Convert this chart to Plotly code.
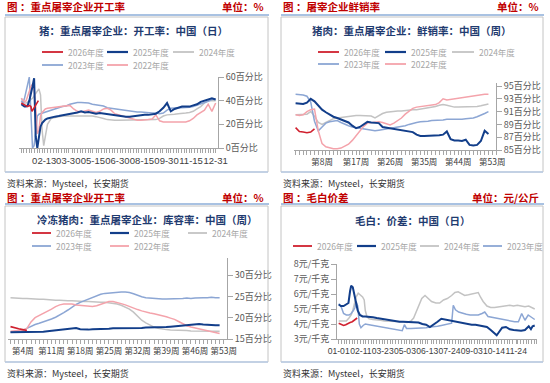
import plotly.graph_objects as go

# ================= DATA =================
YEARS = ["2026年度", "2025年度", "2024年度", "2023年度", "2022年度"]

# Panel 1: 猪：重点屠宰企业：开工率：中国（日）  x = day of year
P1_DAYS = [1, 4, 7, 10, 13, 16, 19, 22, 25, 28, 31, 34, 37, 40, 43, 46, 50, 57, 64, 71, 78, 85, 92, 99,
           106, 113, 120, 127, 134, 141, 148, 155, 162, 169, 176, 183, 190, 197, 204, 211, 218, 225, 232,
           239, 246, 253, 260, 267, 274, 281, 288, 295, 302, 309, 316, 323, 330, 337, 344, 351, 358, 365]
P1_2023 = [40, 38, 42, 48, 56, 60, 30, 0, 2, 15, 27, 28.5, 29, 29.5, 30, 30, 31, 32, 33, 34, 35, 35.5, 37, 38,
           38.5, 38.5, 38.5, 38, 37, 36.5, 36, 35.5, 34, 33.5, 33, 32.5, 32, 31.5, 31, 30.5, 30.5, 30.5, 30,
           30, 29.5, 29.5, 29, 29.5, 32, 33.5, 34, 34, 34, 34, 34.5, 35, 36, 37, 38, 39.5, 41, 41]
P1_2025 = [37, 36, 35, 35, 36, 40, 45, 52, 59, 10, 0, 8, 18, 21, 23, 24, 25, 26, 26.5, 27, 27.5, 28, 28.5, 29,
           30, 31, 30, 30.5, 30, 29, 29.5, 29, 29, 28.5, 28, 27, 26.5, 26.5, 26.5, 27, 27, 27.5, 28,
           28, 28.5, 29, 31, 34, 38, 31, 33, 34, 35, 35, 35, 36, 37, 39, 40, 41, 42, 41]
P1_2024 = [42, 40, 38, 38, 39, 40, 41, 42, 44, 46, 48, 50, 45, 15, 2, 10, 20, 25, 26, 26.5, 27, 27, 27, 27.5,
           27.5, 27.5, 27, 27, 27, 26.5, 26, 25, 24, 23.5, 23.5, 23.5, 23.5, 23.5, 23.5, 23.5, 23.5, 23.5, 23.5,
           23.5, 23.5, 24, 25, 27, 28, 28, 28.5, 29, 29, 29.5, 30, 31, 33, 35, 38, 40, 40, 40]
P1_2022 = [42, 40, 39, 40, 44, 48, 52, 54, 50, 35, 12, 15, 27, 30, 32, 33, 33.5, 34, 34, 34.5, 35, 35.5, 36, 33,
           31, 30.5, 31, 32, 31, 30, 31, 33, 33.5, 32, 29, 28, 27, 26, 25, 24, 23.5, 23.5, 23.5,
           24, 24.5, 28, 23, 22, 22, 22, 21.5, 21.5, 22, 22, 23, 25, 28, 30, 32, 37, 31, 38]
P1_2026_DAYS = [1, 5, 9, 13, 16, 19, 21, 24, 27, 30, 33]
P1_2026 = [38, 37, 36, 35, 36, 35, 31, 33, 36, 38, 40]
P1_XLABELS = ["02-13", "03-30", "05-15", "06-30", "08-15", "09-30", "11-15", "12-31"]
P1_XLABEL_DAYS = [44, 89, 135, 181, 227, 273, 319, 365]

# Panel 2: 猪肉：重点屠宰企业：鲜销率：中国（周）
P2_WEEKS = list(range(1, 53))
P2_2025 = [92.3, 92.2, 92.2, 92.4, 93.0, 92.6, 91.9, 91.3, 90.9, 90.5, 90.2, 90.0, 89.8, 89.6, 89.3, 88.8,
           88.4, 88.6, 89.0, 89.4, 89.3, 89.3, 89.2, 88.6, 88.5, 88.4, 88.3, 88.2, 88.1, 88.1, 88.0, 87.8,
           87.4, 87.2, 87.2, 87.2, 87.2, 87.3, 87.3, 87.4, 87.9, 86.7, 86.5, 86.5, 86.4, 86.6, 85.8, 85.7,
           85.8, 86.4, 88.0, 87.5]
P2_2024 = [90.5, 90.5, 90.5, 90.6, 91.0, 90.3, 89.3, 89.0, 89.3, 89.6, 89.9, 90.0, 90.1, 90.2, 90.3, 90.3,
           90.4, 90.4, 90.4, 90.4, 90.3, 90.0, 90.4, 90.7, 90.9, 91.0, 91.0, 91.1, 91.1, 91.2, 91.2, 91.3,
           91.3, 91.4, 91.4, 91.5, 91.6, 91.8, 92.0, 92.1, 92.0, 91.8, 91.7, 91.7, 91.7, 91.7, 91.7, 91.8,
           91.8, 91.9, 92.1, 92.2]
P2_2023 = [93.7, 93.7, 93.6, 93.4, 92.5, 89.5, 88.0, 88.6, 89.2, 89.4, 89.5, 89.6, 89.3, 89.0, 88.8, 88.6,
           88.5, 88.4, 88.2, 88.1, 88.1, 88.0, 88.1, 88.2, 88.2, 88.3, 88.4, 88.5, 88.6, 88.8, 89.0, 89.2,
           89.3, 89.4, 89.4, 89.5, 89.6, 89.6, 89.7, 89.7, 89.8, 89.8, 89.7, 89.7, 89.8, 89.9, 89.9, 90.0,
           90.2, 90.4, 90.7, 91.0]
P2_2022 = [90.5, 90.4, 90.5, 91.0, 91.3, 91.4, 88.0, 86.0, 85.5, 85.3, 85.2, 85.2, 85.3, 85.6, 85.9, 86.5,
           87.2, 88.0, 88.7, 89.2, 89.3, 89.4, 89.4, 89.3, 89.1, 88.9, 89.2, 89.6, 90.0, 90.6, 91.1, 91.5,
           91.7, 91.8, 91.8, 91.9, 92.0, 92.1, 92.4, 93.0, 92.8, 92.9, 93.0, 93.1, 93.2, 93.3, 93.4, 93.5,
           93.6, 93.7, 93.7, 93.7]
P2_2026_WEEKS = [1, 2, 3, 4, 5, 6]
P2_2026 = [88.5, 87.9, 87.8, 87.7, 87.8, 88.3]
P2_XLABEL_WEEKS = [8, 17, 26, 35, 44, 53]

# Panel 3: 冷冻猪肉：重点屠宰企业：库容率：中国（周）
P3_WEEKS = list(range(1, 53))
P3_2025 = [16.6, 16.6, 16.6, 16.6, 16.6, 16.6, 16.6, 16.6, 16.7, 16.8, 16.9, 17.0, 17.1, 17.2, 17.4, 17.5,
           17.6, 17.3, 17.2, 17.2, 17.3, 17.3, 17.4, 17.4, 17.4, 17.5, 17.5, 17.5, 17.5, 17.6, 17.6, 17.6,
           17.6, 17.7, 17.7, 17.7, 17.7, 17.8, 17.8, 17.9, 18.0, 18.1, 18.2, 18.3, 18.4, 18.5, 18.5, 18.4,
           18.4, 18.3, 18.2, 18.2]
P3_2024 = [24.7, 24.6, 24.6, 24.5, 24.5, 24.4, 24.4, 24.3, 24.3, 24.2, 24.2, 24.1, 24.1, 24.0, 24.0, 24.0,
           23.9, 23.9, 23.8, 23.8, 23.7, 23.7, 23.6, 23.6, 23.5, 23.4, 23.2, 22.9, 22.5, 22.0, 21.3, 20.3,
           19.4, 18.8, 18.3, 17.8, 17.5, 17.3, 17.2, 17.1, 17.1, 17.0, 17.0, 17.0, 16.9, 16.9, 16.9, 16.9,
           16.8, 16.8, 16.8, 16.8]
P3_2023 = [16.6, 16.7, 16.8, 17.0, 17.5, 18.0, 18.4, 18.7, 19.0, 19.3, 19.7, 20.1, 20.6, 21.2, 21.8, 22.5,
           23.1, 23.6, 24.0, 24.4, 24.8, 25.2, 25.5, 25.7, 25.8, 25.9, 26.0, 26.0, 26.0, 25.9, 25.6, 25.2,
           24.9, 24.7, 24.6, 24.5, 24.5, 24.4, 24.4, 24.4, 24.4, 24.4, 24.5, 24.6, 24.5, 24.6, 24.7, 24.7,
           24.7, 24.8, 24.7, 24.7]
P3_2022 = [16.8, 16.9, 17.0, 17.1, 17.5, 19.0, 20.0, 20.5, 21.0, 21.4, 22.0, 22.6, 23.0, 23.2, 23.2, 23.2,
           23.0, 22.9, 22.8, 22.6, 22.6, 22.8, 23.1, 23.5, 23.8, 23.8, 23.6, 23.3, 23.0, 22.6, 22.2, 21.9,
           21.6, 21.3, 21.1, 20.9, 20.7, 20.5, 20.2, 19.9, 19.6, 19.1, 18.5, 18.1, 17.8, 17.6, 17.4, 17.2,
           17.0, 16.8, 16.5, 16.3]
P3_2026_WEEKS = [1, 2, 3, 4, 5]
P3_2026 = [17.9, 17.6, 17.4, 17.2, 17.0]
P3_XLABEL_WEEKS = [4, 11, 18, 25, 32, 39, 46, 53]

# Panel 4: 毛白：价差：中国（日）  x = day of year
P4_2025_DAYS = [1, 5, 10, 15, 19, 22, 24, 27, 30, 33, 36, 40, 45, 50, 57, 64, 71, 78, 85, 92, 99, 106, 113,
                120, 127, 134, 141, 148, 155, 162, 169, 176, 183, 190, 197, 204, 211, 218, 225, 232, 239,
                246, 253, 260, 267, 274, 281, 288, 292, 295, 302, 309, 316, 323, 330, 337, 344, 351, 355,
                358, 362]
P4_2025 = [5.3, 5.2, 5.2, 5.3, 5.4, 6.2, 6.55, 6.45, 6.0, 5.5, 4.9, 4.6, 4.5, 4.5, 4.5, 4.45, 4.4, 4.35, 4.3,
           4.3, 4.25, 4.2, 4.15, 4.15, 4.15, 4.1, 4.15, 4.1, 4.0, 3.95, 3.8, 3.95, 4.15, 4.35, 4.3, 4.2, 4.15,
           4.1, 4.05, 4.0, 4.0, 3.95, 3.95, 3.9, 3.85, 3.8, 3.6, 3.35, 3.25, 3.4, 3.75, 3.8, 3.65, 3.6, 3.55,
           3.55, 3.6, 3.85, 3.65, 3.85, 3.9]
P4_2024_DAYS = [1, 5, 10, 15, 20, 24, 27, 30, 33, 37, 41, 45, 48, 50, 53, 57, 64, 71, 78, 85, 92, 99, 106,
                113, 120, 127, 134, 139, 144, 148, 154, 160, 166, 172, 180, 187, 194, 201, 209, 215, 221,
                227, 233, 240, 246, 252, 258, 262, 267, 274, 281, 288, 295, 302, 309, 316, 323, 330, 337,
                344, 351, 358, 362]
P4_2024 = [4.2, 4.2, 4.15, 4.2, 4.4, 4.6, 4.9, 5.3, 5.8, 6.05, 5.95, 5.8, 5.6, 4.9, 4.5, 4.35, 4.3, 4.3, 4.25,
           4.2, 4.2, 4.2, 4.2, 4.2, 4.15, 4.1, 4.2, 4.4, 4.8, 5.1, 5.7, 5.9, 5.7, 5.5, 5.4, 5.4, 5.6, 5.7,
           5.9, 6.1, 6.15, 6.0, 5.9, 5.95, 6.0, 6.1, 6.1, 5.8, 5.5, 5.2, 5.1, 5.1, 5.15, 5.15, 5.2, 5.25,
           5.2, 5.25, 5.2, 5.15, 5.2, 5.1, 5.0]
P4_2023_DAYS = [1, 5, 10, 15, 20, 24, 28, 31, 33, 36, 39, 42, 46, 50, 57, 64, 71, 78, 85, 92, 99, 106, 113,
                118, 122, 126, 134, 141, 148, 155, 162, 169, 176, 183, 190, 197, 204, 209, 212, 216, 222,
                229, 236, 243, 250, 258, 265, 270, 276, 283, 290, 297, 304, 311, 318, 325, 332, 338, 344,
                350, 356, 362]
P4_2023 = [5.35, 5.2, 4.7, 4.6, 4.6, 4.7, 4.9, 5.1, 5.5, 5.2, 4.0, 3.75, 3.9, 4.0, 3.95, 3.9, 3.85, 3.8, 3.8,
           3.75, 3.7, 3.65, 3.6, 3.55, 3.95, 3.7, 3.7, 3.7, 3.7, 3.75, 3.75, 3.8, 3.8, 3.85, 3.9, 3.95, 4.0,
           4.05, 5.25, 4.95, 4.8, 4.7, 4.65, 4.6, 4.6, 4.6, 4.7, 4.8, 4.5, 4.45, 4.4, 4.35, 4.3, 4.2, 4.2,
           4.15, 4.15, 4.7, 4.25, 4.6, 4.45, 4.3]
P4_2026_DAYS = [1, 5, 10, 14, 18, 22, 26, 30, 33, 35]
P4_2026 = [4.05, 4.0, 3.9, 3.95, 4.05, 4.1, 4.15, 4.25, 4.3, 4.4]
P4_XLABELS = ["01-01", "02-11", "03-23", "05-03", "06-13", "07-24", "09-03", "10-14", "11-24"]
P4_XLABEL_DAYS = [1, 42, 82, 123, 164, 205, 246, 287, 328]

# ================= STYLE =================
W, H = 550, 383
C = {"2026年度": "#D0202E", "2025年度": "#123E8A", "2024年度": "#C3C3C3",
     "2023年度": "#8CA6D4", "2022年度": "#F4A3AB"}
LW = {"2026年度": 1.6, "2025年度": 2.0, "2024年度": 1.5, "2023年度": 1.5, "2022年度": 1.5}
RED = "#C00000"
NAVY = "#1F3B70"
AX = "#A6A6A6"
CJK = "Noto Sans CJK SC"
LAT = "Liberation Sans"


def fx(p):
    return p / W


def fy(p):
    return 1 - p / H


fig = go.Figure()


def add(xs, ys, name, ax):
    fig.add_trace(go.Scatter(x=xs, y=ys, mode="lines", name=name, showlegend=False,
                             line=dict(color=C[name], width=LW[name]),
                             xaxis="x" + ax, yaxis="y" + ax, hoverinfo="skip"))


# panel 1
add(P1_DAYS, P1_2024, "2024年度", "")
add(P1_DAYS, P1_2023, "2023年度", "")
add(P1_DAYS, P1_2022, "2022年度", "")
add(P1_DAYS, P1_2025, "2025年度", "")
add(P1_2026_DAYS, P1_2026, "2026年度", "")
# panel 2
add(P2_WEEKS, P2_2024, "2024年度", "2")
add(P2_WEEKS, P2_2023, "2023年度", "2")
add(P2_WEEKS, P2_2022, "2022年度", "2")
add(P2_WEEKS, P2_2025, "2025年度", "2")
add(P2_2026_WEEKS, P2_2026, "2026年度", "2")
# panel 3
add(P3_WEEKS, P3_2024, "2024年度", "3")
add(P3_WEEKS, P3_2023, "2023年度", "3")
add(P3_WEEKS, P3_2022, "2022年度", "3")
add(P3_WEEKS, P3_2025, "2025年度", "3")
add(P3_2026_WEEKS, P3_2026, "2026年度", "3")
# panel 4
add(P4_2024_DAYS, P4_2024, "2024年度", "4")
add(P4_2023_DAYS, P4_2023, "2023年度", "4")
add(P4_2025_DAYS, P4_2025, "2025年度", "4")
add(P4_2026_DAYS, P4_2026, "2026年度", "4")


def dense(lo, hi, step, labeled, labels):
    vals, text = [], []
    v = lo
    while v <= hi:
        if all(abs(v - l) > step * 0.5 for l in labeled):
            vals.append(v)
            text.append("")
        v += step
    vals += list(labeled)
    text += list(labels)
    return vals, text


def xaxis(dom, rng, vals, text, font, size, anchor):
    return dict(domain=[fx(dom[0]), fx(dom[1])], range=rng, tickmode="array", tickvals=vals,
                ticktext=text, tickangle=0, ticks="outside", ticklen=4, tickwidth=1, tickcolor=AX,
                showline=True, linecolor=AX, linewidth=1, showgrid=False, zeroline=False, anchor=anchor,
                tickfont=dict(family=font, size=size, color="#404040"), automargin=False, fixedrange=True)


def yaxis(dom, rng, vals, suffix, side, anchor):
    return dict(domain=[fy(dom[1]), fy(dom[0])], range=rng, tickmode="array", tickvals=vals,
                ticktext=[f"{v}{suffix}" for v in vals], side=side, anchor=anchor,
                ticks="outside", ticklen=5, tickwidth=1, tickcolor=AX,
                showline=True, linecolor=AX, linewidth=1, showgrid=False, zeroline=False,
                tickfont=dict(family=CJK, size=9, color="#595959"), automargin=False, fixedrange=True)


v1, t1 = dense(1, 369, 5, P1_XLABEL_DAYS, P1_XLABELS)
v2, t2 = dense(1, 54, 1, P2_XLABEL_WEEKS, [f"第{w}周" for w in P2_XLABEL_WEEKS])
v3, t3 = dense(1, 53, 1, P3_XLABEL_WEEKS, [f"第{w}周" for w in P3_XLABEL_WEEKS])
v4, t4 = dense(1, 366, 5, P4_XLABEL_DAYS, P4_XLABELS)

shapes, annos = [], []


def text(x, y, s, size, color, anchor="left", bold=False, family=CJK):
    annos.append(dict(xref="paper", yref="paper", x=fx(x), y=fy(y), text=f"<b>{s}</b>" if bold else s,
                      showarrow=False, xanchor=anchor, yanchor="middle",
                      font=dict(family=family, size=size, color=color)))


def line(x0, y0, x1, y1, color, width):
    shapes.append(dict(type="line", xref="paper", yref="paper", x0=fx(x0), y0=fy(y0), x1=fx(x1), y1=fy(y1),
                       line=dict(color=color, width=width)))


def frame(x0, x1, ytitle, ytop, ybot, title, unit, ctitle, cx, cy, src_y):
    text(x0, ytitle, title, 10.5, RED, bold=True)
    text(x1 - 2, ytitle, unit, 10.5, RED, anchor="right", bold=True)
    line(x0, ytop - 2, x1 + 1, ytop - 2, "#A9C2E2", 2)
    shapes.append(dict(type="rect", xref="paper", yref="paper", x0=fx(x0), x1=fx(x1), y0=fy(ybot),
                       y1=fy(ytop), line=dict(color="#C4C4C4", width=1)))
    line(x0, ybot, x1, ybot, "#B9CBE4", 1.5)
    text(cx, cy, ctitle, 10.5, NAVY, anchor="center", bold=True)
    text(x0, src_y, "资料来源：Mysteel，长安期货", 9, "#333333")


def legend(items):
    for (x, y, name, ln) in items:
        line(x, y, x + ln, y, C[name], 2.2 if name == "2025年度" else 1.8)
        text(x + ln + 3, y, name, 8.5, "#A6A6A6")


frame(5, 268, 7, 17, 172, "图 ：重点屠宰企业开工率", "单位：%", "猪：重点屠宰企业：开工率：中国（日）", 133, 31, 183)
frame(281, 543, 7, 17, 172, "图 ：屠宰企业鲜销率", "单位：%", "猪肉：重点屠宰企业：鲜销率：中国（周）", 412, 31, 183)
frame(5, 268, 197, 206, 362, "图 ：重点屠宰企业开工率", "单位：%", "冷冻猪肉：重点屠宰企业：库容率：中国（周）", 147, 219, 373)
frame(281, 543, 197, 206, 362, "图 ：毛白价差", "单位：元/公斤", "毛白：价差：中国（日）", 413, 220, 373)

legend([(42, 52, "2026年度", 21), (107, 52, "2025年度", 21), (173, 52, "2024年度", 21),
        (42, 65, "2023年度", 21), (107, 65, "2022年度", 21)])
legend([(318, 52, "2026年度", 21), (385, 52, "2025年度", 21), (452, 52, "2024年度", 22),
        (318, 64, "2023年度", 21), (385, 64, "2022年度", 21)])
legend([(32, 233, "2026年度", 19), (110, 233, "2025年度", 19), (188, 233, "2024年度", 19),
        (32, 246, "2023年度", 19), (110, 246, "2022年度", 19)])
legend([(293, 246, "2026年度", 19), (357, 246, "2025年度", 19), (420, 246, "2024年度", 19),
        (483, 246, "2023年度", 19)])

fig.update_layout(
    width=W, height=H, margin=dict(l=0, r=0, t=0, b=0), paper_bgcolor="white", plot_bgcolor="white",
    showlegend=False, shapes=shapes, annotations=annos,
    xaxis=xaxis((19, 218), [-3.3, 369.4], v1, t1, LAT, 9.5, "y"),
    yaxis=yaxis((77, 148), [0, 60], [0, 20, 40, 60], "百分比", "right", "x"),
    xaxis2=xaxis((294, 496), [0.58, 54.0], v2, t2, CJK, 8.5, "y2"),
    yaxis2=yaxis((82.8, 150), [85, 95.5], [85, 87, 89, 91, 93, 95], "百分比", "right", "x2"),
    xaxis3=xaxis((8, 227), [0.39, 53.8], v3, t3, CJK, 8.5, "y3"),
    yaxis3=yaxis((258, 339), [15, 34], [15, 20, 25, 30], "百分比", "right", "x3"),
    xaxis4=xaxis((337, 537), [-2.1, 366.2], v4, t4, LAT, 8.6, "y4"),
    yaxis4=yaxis((264, 339), [3, 8], [3, 4, 5, 6, 7, 8], "元/千克", "left", "x4"),
)

fig.write_html("out.html", config={"displayModeBar": False, "staticPlot": True},
               post_script="document.body.style.margin='0px';document.body.style.padding='0px';")
